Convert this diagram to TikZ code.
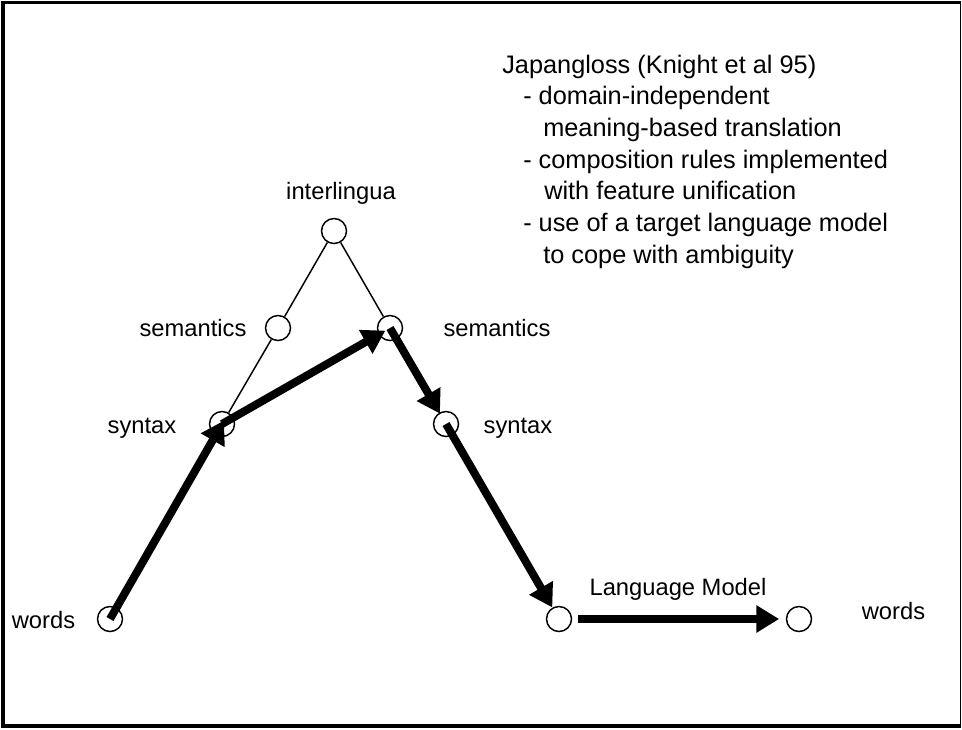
\documentclass[tikz,border=0pt]{standalone}
\usepackage{fontspec}
\setmainfont{Liberation Sans}
\usetikzlibrary{arrows.meta}
\tikzset{
  state/.style={circle,draw,line width=1.1pt,inner sep=0pt,minimum size=18.75pt,fill=white},
  lbl/.style={anchor=base,inner sep=0pt,font=\fontsize{17.8pt}{21pt}\selectfont},
  txt/.style={anchor=base west,inner sep=0pt,font=\fontsize{19pt}{23pt}\selectfont},
  thin/.style={line width=1.1pt},
  bigarrow/.style={line width=6pt,-{Triangle[length=17pt,width=19.5pt]}},
  frame/.style={line width=2.6pt}
}
\begin{document}
\begin{tikzpicture}[x=0.75pt,y=-0.75pt]
\useasboundingbox (0,0) rectangle (962,729);
% frame
\coordinate (f1) at (3,2.5);
\coordinate (f2) at (960.5,2.5);
\coordinate (f3) at (960.5,726);
\coordinate (f4) at (3,726);
\draw[frame] (f2) -- (f1) -- (f4) -- (f3);
\draw[line width=1pt] (f2) -- (f3);

% circles
\node[state] (il) at (334,231) {};
\node[state] (sml) at (278,328) {};
\node[state] (smr) at (390,328) {};
\node[state] (sxl) at (222,424) {};
\node[state] (sxr) at (446,424) {};
\node[state] (wl) at (110,619) {};
\node[state] (bc) at (559,619) {};
\node[state] (wr) at (799,619) {};

% labels
\node[lbl] (lil) at (341,199) {interlingua};
\node[lbl] (lsml) at (193,336) {semantics};
\node[lbl] (lsmr) at (497,336) {semantics};
\node[lbl] (lsxl) at (142,433) {syntax};
\node[lbl] (lsxr) at (518,433) {syntax};
\node[lbl] (lwl) at (43.5,628) {words};
\node[lbl] (lwr) at (893.5,619) {words};
\node[lbl] (llm) at (678,595) {Language Model};

% text block
\node[txt] (t1) at (502,73) {Japangloss (Knight et al 95)};
\node[txt] (t2) at (523,104.7) {- domain-independent};
\node[txt] (t3) at (543,136.3) {meaning-based translation};
\node[txt] (t4) at (523,168) {- composition rules implemented};
\node[txt] (t5) at (544,199.7) {with feature unification};
\node[txt] (t6) at (523,231.3) {- use of a target language model};
\node[txt] (t7) at (543,263) {to cope with ambiguity};

% thin tree lines
\draw[thin] (il) -- (sml);
\draw[thin] (sml) -- (sxl);
\draw[thin] (il) -- (smr);

% thick arrows
\draw[bigarrow,shorten >=-3pt] (wl.center) -- (sxl.center);
\draw[bigarrow,shorten >=4pt] (sxl.center) -- (smr.center);
\draw[bigarrow,shorten >=9pt] (smr.center) -- (sxr.center);
\draw[bigarrow,shorten >=10pt] (sxr.center) -- (bc.center);
\draw[bigarrow,shorten <=4.5pt,shorten >=5pt] (bc.east) -- (wr.west);
\end{tikzpicture}
\end{document}
